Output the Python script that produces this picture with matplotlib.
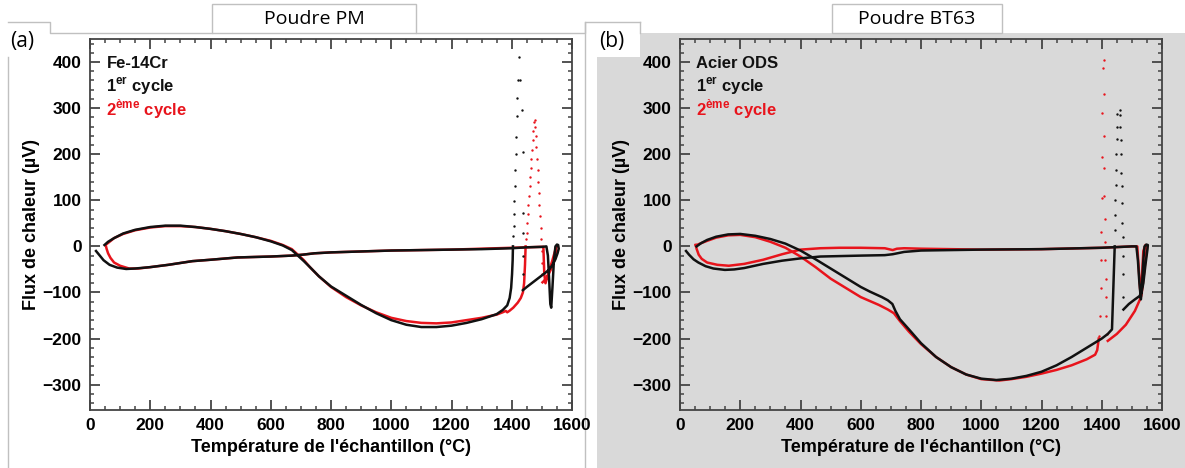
import matplotlib
matplotlib.use("Agg")
import matplotlib.pyplot as plt
from matplotlib.patches import Rectangle
from matplotlib.lines import Line2D
from matplotlib.ticker import MultipleLocator

plt.rcParams['font.family'] = ['Liberation Sans', 'DejaVu Sans']
plt.rcParams['mathtext.fontset'] = 'custom'
plt.rcParams['mathtext.bf'] = 'Liberation Sans:bold'
plt.rcParams['mathtext.rm'] = 'Liberation Sans'

W, H = 1185, 468

# ---- (a) Poudre PM / Fe-14Cr ----
a_k1_T = [20, 30, 45, 65, 90, 120, 150, 200, 260, 340, 400, 490, 600, 670, 706, 745, 800, 900, 1000,
          1100, 1200, 1300, 1400, 1450, 1500, 1515, 1520, 1524, 1528, 1531, 1535, 1540, 1545, 1550,
          1554, 1556, 1552, 1545, 1535, 1525, 1510, 1490, 1470, 1450, 1437]
a_k1_V = [-10, -18, -30, -40, -46, -49, -48, -45, -40, -32, -29, -24, -22, -20, -18, -15, -13, -11, -9,
          -8, -7, -6, -4, -2, -1, 0, -20, -70, -125, -133, -90, -30, 0, 4,
          3, -5, -15, -28, -40, -50, -58, -68, -78, -88, -95]
a_k2_T = [1404, 1403, 1401, 1398, 1393, 1385, 1370, 1350, 1300, 1250, 1200, 1150, 1100, 1050, 1000, 950,
          900, 850, 800, 760, 730, 710, 690, 670, 640, 600, 550, 500, 450, 400, 350, 300, 250, 200,
          150, 110, 80, 60, 48]
a_k2_V = [0, -30, -60, -90, -112, -128, -138, -147, -158, -166, -172, -175, -175, -170, -160, -145,
          -127, -107, -87, -65, -45, -32, -20, -8, 2, 11, 20, 27, 33, 38, 42, 45, 45, 42,
          36, 28, 18, 10, 3]
a_kd_T = [1437, 1437, 1436, 1436, 1436, 1435, 1428, 1425, 1421, 1419, 1417, 1415, 1413, 1412, 1410,
          1409, 1407, 1406, 1405]
a_kd_V = [-60, -20, 30, 73, 205, 296, 361, 410, 361, 322, 283, 237, 200, 165, 130, 98, 70, 45, 22]

a_r1_T = [52, 55, 60, 68, 80, 100, 130, 160, 200, 260, 340, 400, 490, 600, 670, 706, 745, 800, 900,
          1000, 1100, 1200, 1300, 1400, 1450, 1500, 1505, 1508, 1512, 1520, 1535, 1548, 1545, 1530,
          1515, 1502]
a_r1_V = [3, -5, -15, -25, -35, -42, -48, -48, -45, -40, -32, -29, -24, -22, -20, -18, -15, -13, -11,
          -9, -8, -7, -5, -3, -2, -1, -1, -60, -80, -62, -30, 0, -20, -50,
          -70, -78]
a_r2_T = [1446, 1444, 1441, 1437, 1430, 1420, 1405, 1392, 1385, 1380, 1370, 1350, 1300, 1250, 1200,
          1150, 1100, 1050, 1000, 950, 900, 850, 800, 760, 730, 710, 690, 670, 640, 600, 550, 500,
          450, 400, 350, 300, 250, 200, 150, 110, 80, 65, 55, 52]
a_r2_V = [0, -40, -80, -100, -112, -122, -133, -140, -143, -140, -143, -148, -155, -160, -165, -167,
          -166, -162, -155, -143, -128, -110, -88, -65, -45, -30, -18, -6, 3, 12, 20, 27, 33,
          38, 42, 44, 44, 41, 35, 27, 18, 10, 5, 3]
a_rd_T = [1501, 1500, 1499, 1498, 1496, 1494, 1492, 1490, 1488, 1486, 1484, 1482, 1480, 1478, 1476,
          1473, 1471, 1469, 1467, 1465, 1463, 1461, 1459, 1457, 1455, 1453, 1451, 1449, 1447]
a_rd_V = [-60, -35, -10, 15, 40, 65, 90, 115, 140, 165, 190, 215, 240, 260, 275,
          270, 250, 230, 210, 190, 170, 150, 130, 110, 90, 70, 50, 30, 15]

# ---- (b) Poudre BT63 / Acier ODS ----
b_k1_T = [20, 30, 45, 61, 85, 111, 149, 180, 213, 276, 339, 400, 466, 600, 680, 706, 744, 800, 1000,
          1200, 1400, 1500, 1515, 1520, 1525, 1530, 1534, 1538, 1542, 1548, 1553, 1552, 1545, 1538,
          1532, 1525, 1510, 1490, 1472]
b_k1_V = [-10, -18, -28, -35, -43, -48, -51, -50, -47, -38, -31, -26, -22, -20, -19, -17, -12, -9, -7,
          -6, -3, 0, 0, -30, -80, -115, -80, -30, 0, 4, 3, -5, -40, -80,
          -100, -108, -115, -125, -137]
b_k2_T = [1443, 1440, 1437, 1434, 1420, 1400, 1350, 1300, 1250, 1200, 1150, 1100, 1050, 1000, 950,
          900, 850, 800, 760, 730, 715, 705, 690, 670, 630, 600, 550, 500, 450, 400, 350, 300, 250,
          200, 160, 120, 90, 70, 55]
b_k2_V = [0, -60, -120, -180, -190, -200, -220, -240, -258, -272, -281, -287, -290, -287, -278,
          -262, -240, -210, -180, -158, -140, -125, -117, -110, -98, -88, -68, -48, -28, -9, 6, 16, 23,
          27, 26, 21, 14, 7, 0]
b_kd_T = [1472, 1471, 1470, 1469, 1468, 1467, 1466, 1465, 1464, 1463, 1462, 1461, 1460,
          1451, 1450, 1449, 1448, 1447, 1446, 1445, 1444, 1443]
b_kd_V = [-110, -60, -20, 20, 50, 95, 130, 160, 200, 230, 260, 285, 297,
          287, 258, 233, 200, 165, 133, 101, 69, 35]

b_r1_T = [52, 55, 62, 72, 90, 124, 162, 213, 276, 339, 400, 466, 529, 600, 680, 706, 720, 744, 800,
          900, 1000, 1200, 1400, 1500, 1518, 1522, 1527, 1530, 1534, 1538, 1545, 1550, 1547, 1540,
          1533, 1527, 1510, 1480, 1450, 1420]
b_r1_V = [3, -5, -18, -27, -35, -40, -42, -38, -29, -17, -7, -4, -3, -3, -4, -8, -5, -4, -5,
          -6, -7, -6, -3, 0, 0, -40, -90, -110, -60, -10, 3, 2, -20, -60,
          -100, -115, -140, -170, -190, -205]
b_r2_T = [1390, 1385, 1378, 1350, 1300, 1250, 1200, 1150, 1100, 1060, 1000, 950, 900, 850, 800, 760,
          730, 710, 690, 660, 600, 550, 500, 450, 400, 350, 300, 250, 200, 160, 120, 90, 70, 55, 52]
b_r2_V = [-200, -225, -235, -245, -258, -268, -276, -283, -288, -291, -288, -278, -262, -240, -212,
          -185, -162, -145, -137, -127, -110, -90, -70, -45, -22, -3, 10, 20, 25, 24, 19, 12, 7, 3, 3]
b_rd_T = [1416, 1415, 1414, 1413, 1412, 1411, 1410, 1409, 1409, 1408, 1407, 1406,
          1404, 1402, 1401, 1400, 1399, 1398, 1396, 1394, 1392]
b_rd_V = [-190, -150, -110, -70, -30, 10, 60, 110, 170, 240, 330, 405,
          386, 290, 193, 104, 32, -30, -90, -150, -195]

x_ticks = [0, 200, 400, 600, 800, 1000, 1200, 1400, 1600]
y_ticks = [-300, -200, -100, 0, 100, 200, 300, 400]

panels = [
    dict(rect=(90, 39, 572, 410), bg='white', tag='(a)', title='Poudre PM', name='Fe-14Cr',
         k=[(a_k1_T, a_k1_V), (a_k2_T, a_k2_V)], kd=(a_kd_T, a_kd_V),
         r=[(a_r1_T, a_r1_V), (a_r2_T, a_r2_V)], rd=(a_rd_T, a_rd_V)),
    dict(rect=(680, 39, 1162, 410), bg='#d9d9d9', tag='(b)', title='Poudre BT63', name='Acier ODS',
         k=[(b_k1_T, b_k1_V), (b_k2_T, b_k2_V)], kd=(b_kd_T, b_kd_V),
         r=[(b_r1_T, b_r1_V), (b_r2_T, b_r2_V)], rd=(b_rd_T, b_rd_V)),
]


def fx(x):
    return x / W


def fy(y):
    return 1 - y / H


fig = plt.figure(figsize=(W / 100, H / 100), dpi=100)
fig.patch.set_facecolor('white')

edge = '#c0c0c0'


def box(x0, y0, x1, y1, fc, ec='none', z=0):
    fig.patches.append(Rectangle((fx(x0), fy(y1)), fx(x1 - x0), (y1 - y0) / H,
                                 transform=fig.transFigure, facecolor=fc, edgecolor=ec,
                                 linewidth=1, zorder=z))


def seg(xs, ys):
    fig.lines.append(Line2D([fx(v) for v in xs], [fy(v) for v in ys], transform=fig.transFigure,
                            color=edge, linewidth=1, zorder=1))


# frames and title boxes
box(597, 33, 1185, 468, '#d9d9d9', z=-5)
seg([8, 50, 50, 212], [22, 22, 33, 33])
seg([8, 8], [57, 468])
seg([416, 585, 585, 640], [33, 33, 22, 22])
seg([585, 585], [22, 468])
box(585, 22, 640, 57, 'white', z=0)
seg([640, 640], [22, 33])
box(212, 4, 416, 33, 'white', edge, z=2)
box(832, 4, 1002, 33, 'white', edge, z=2)

for p in panels:
    x0, y0, x1, y1 = p['rect']
    ax = fig.add_axes([fx(x0), fy(y1), fx(x1 - x0), (y1 - y0) / H], zorder=5)
    ax.set_facecolor(p['bg'])
    for T, V in p['k']:
        ax.plot(T, V, color='#111111', lw=1.8, zorder=3)
    for T, V in p['r']:
        ax.plot(T, V, color='#e8141c', lw=1.8, zorder=2)
    ax.scatter(*p['kd'], s=3, color='#111111', lw=0, zorder=3)
    ax.scatter(*p['rd'], s=3, color='#e8141c', lw=0, zorder=2)

    ax.set_xlim(0, 1600)
    ax.set_ylim(-355, 450)
    ax.set_xticks(x_ticks)
    ax.set_yticks(y_ticks)
    ax.set_yticklabels([str(v).replace('-', '\u2212') for v in y_ticks])
    ax.xaxis.set_minor_locator(MultipleLocator(50))
    ax.yaxis.set_minor_locator(MultipleLocator(20))
    ax.tick_params(which='both', direction='in', top=True, right=True, color='#444444',
                   labelsize=12.5, pad=6)
    ax.tick_params(which='major', length=7, width=1.3)
    ax.tick_params(which='minor', length=3, width=1.1)
    for lab in ax.get_xticklabels() + ax.get_yticklabels():
        lab.set_fontweight('bold')
    for s in ax.spines.values():
        s.set_color('#444444')
        s.set_linewidth(1.3)
    ax.set_xlabel("Température de l'échantillon (°C)", fontsize=13, fontweight='bold', labelpad=4)
    ax.set_ylabel('Flux de chaleur (µV)', fontsize=13, fontweight='bold', labelpad=2)

    ax.text(0.034, 0.935, p['name'], transform=ax.transAxes, fontsize=12, fontweight='bold',
            color='#111111', va='center')
    ax.text(0.034, 0.872, r'1$^{\mathbf{er}}$ cycle', transform=ax.transAxes, fontsize=12,
            fontweight='bold', color='#111111', va='center')
    ax.text(0.034, 0.812, r'2$^{\mathbf{ème}}$ cycle', transform=ax.transAxes, fontsize=12,
            fontweight='bold', color='#e8141c', va='center')

    tx = 22 if p['tag'] == '(a)' else 612
    fig.text(fx(tx), fy(41), p['tag'], fontsize=15, family='Open Sans', ha='center', va='center',
             zorder=6)
    bx = (212 + 416) / 2 if p['tag'] == '(a)' else (832 + 1002) / 2
    fig.text(fx(bx), fy(19), p['title'], fontsize=14, family='Open Sans', ha='center', va='center',
             zorder=6)

fig.savefig('out.png', dpi=100)
